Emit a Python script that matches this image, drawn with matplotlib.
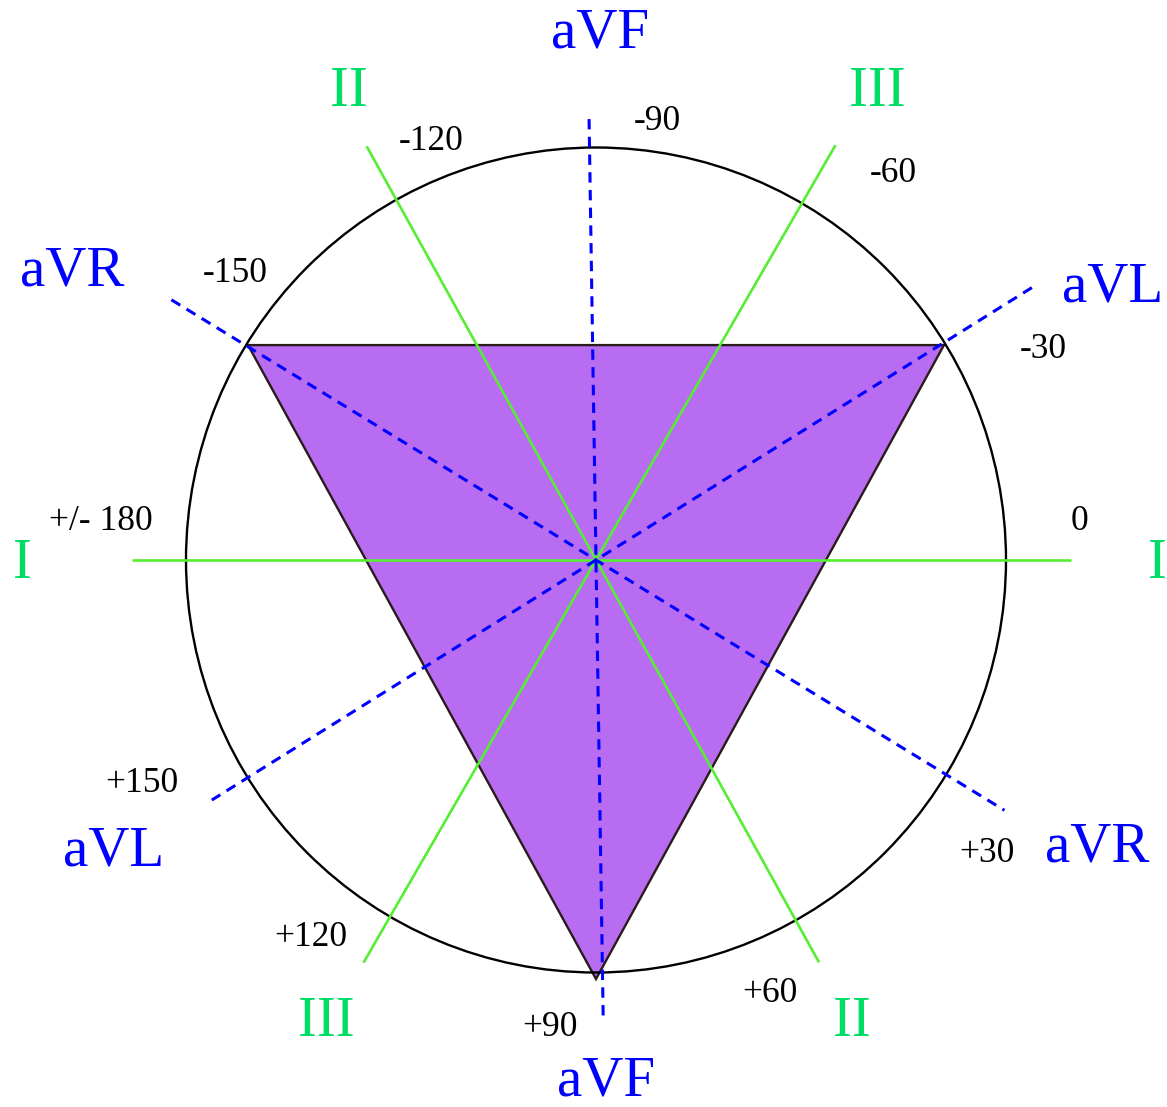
import numpy as np
import matplotlib
matplotlib.use("Agg")
import matplotlib.pyplot as plt
from matplotlib.patches import Ellipse, Polygon

# ---------------- data ----------------
# limb leads (green, solid) : name, axis angle (deg, clockwise from +x), extents (+dir, -dir)
limb_leads = ["I", "II", "III"]
limb_angles = [0.0, 61.0, 120.0]
limb_ext_pos = [475, 460, 465]
limb_ext_neg = [464, 473, 479]

# augmented leads (blue, dashed)
aug_leads = ["aVF", "aVR", "aVL"]
aug_angles = [89.1, 31.5, 148.0]
aug_ext_pos = [456, 479, 453]
aug_ext_neg = [441, 498, 514]

# triangle vertices (angle deg, radius)
tri_angles = [-148.3, -31.7, 90.0]
tri_radii = [409, 409, 419]

# degree tick labels
deg_labels = ["-90", "-120", "-60", "-150", "-30", "+/- 180", "0",
              "+150", "+30", "+120", "+60", "+90"]

# lead label texts (both ends)
lead_label_texts = ["aVF", "aVF", "II", "II", "III", "III", "aVR", "aVR",
                    "aVL", "aVL", "I", "I"]

# ---------------- layout ----------------
W, H = 1167, 1107
cx, cy = 596, 560
circ_w, circ_h = 820, 825

deg_pos = [(657, 121), (431, 141), (893, 174), (235, 274), (1043, 349),
           (101, 521), (1080, 521), (142, 783), (987, 853), (311, 938),
           (770, 994), (550, 1028)]
lead_pos = [(600, 34), (606, 1081), (349, 92), (852, 1022), (877, 92),
            (326, 1022), (72, 272), (1097, 848), (1113, 288), (114, 852),
            (22, 564), (1157, 564)]

GREEN_LINE = "#55ee33"
GREEN_TEXT = "#00dd66"
BLUE = "#0000ff"
PURPLE = "#b86cf2"
FONT = "Liberation Serif"

fig = plt.figure(figsize=(W / 100, H / 100), dpi=100)
ax = fig.add_axes([0, 0, 1, 1])
ax.set_xlim(0, W)
ax.set_ylim(H, 0)
ax.set_aspect("equal")
ax.axis("off")

# triangle
tri = [(cx + r * np.cos(np.radians(a)), cy + r * np.sin(np.radians(a)))
       for a, r in zip(tri_angles, tri_radii)]
ax.add_patch(Polygon(tri, closed=True, facecolor=PURPLE, edgecolor="#2a1a1a",
                     lw=1.7, zorder=1))

# circle
ax.add_patch(Ellipse((cx, cy), circ_w, circ_h, facecolor="none",
                     edgecolor="black", lw=1.7, zorder=2))

# limb leads
for a, rp, rn in zip(limb_angles, limb_ext_pos, limb_ext_neg):
    t = np.radians(a)
    ax.plot([cx - rn * np.cos(t), cx + rp * np.cos(t)],
            [cy - rn * np.sin(t), cy + rp * np.sin(t)],
            color=GREEN_LINE, lw=1.9, zorder=3, solid_capstyle="butt")

# augmented leads
for a, rp, rn in zip(aug_angles, aug_ext_pos, aug_ext_neg):
    t = np.radians(a)
    ax.plot([cx - rn * np.cos(t), cx + rp * np.cos(t)],
            [cy - rn * np.sin(t), cy + rp * np.sin(t)],
            color=BLUE, lw=2.2, zorder=4, linestyle=(0, (3.4, 2.4)),
            dash_capstyle="butt")

# degree labels
for txt, (x, y) in zip(deg_labels, deg_pos):
    ax.text(x, y, txt, ha="center", va="center", fontsize=25.5,
            family=FONT, color="black", zorder=5)

# lead labels
for txt, (x, y) in zip(lead_label_texts, lead_pos):
    col = BLUE if txt.startswith("aV") else GREEN_TEXT
    ax.text(x, y, txt, ha="center", va="center", fontsize=41,
            family=FONT, color=col, zorder=5)

fig.savefig("out.png", dpi=100)
